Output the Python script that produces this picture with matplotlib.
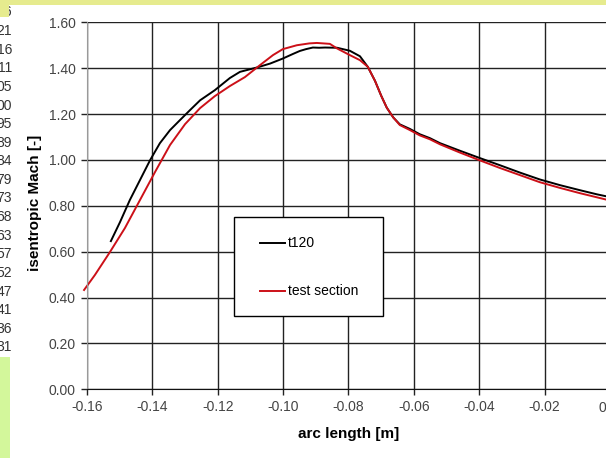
import numpy as np
import matplotlib.pyplot as plt
from matplotlib.patches import Rectangle
from matplotlib.lines import Line2D

plt.rcParams['font.family'] = ['Liberation Sans', 'DejaVu Sans']

# t120 curve (arc length [m], isentropic Mach [-])
t120_x = [-0.1527, -0.1499, -0.1469, -0.1438, -0.1407, -0.1377, -0.1346, -0.1316,
          -0.1285, -0.1254, -0.1209, -0.1163, -0.1132, -0.1102, -0.1080, -0.1040,
          -0.1001, -0.0970, -0.0949, -0.0930, -0.0909, -0.0890, -0.0872, -0.0835,
          -0.0796, -0.0765, -0.0741, -0.0719, -0.0700, -0.0683, -0.0663, -0.0643,
          -0.0612, -0.0582, -0.0551, -0.0520, -0.0459, -0.0398, -0.0337, -0.0276,
          -0.0215, -0.0153, -0.0092, -0.0040, 0.0]
t120_y = [0.646, 0.729, 0.825, 0.912, 0.999, 1.073, 1.130, 1.173,
          1.217, 1.260, 1.304, 1.357, 1.384, 1.395, 1.403, 1.420,
          1.442, 1.462, 1.475, 1.483, 1.490, 1.489, 1.490, 1.489,
          1.476, 1.452, 1.406, 1.345, 1.280, 1.228, 1.185, 1.155,
          1.135, 1.112, 1.095, 1.073, 1.040, 1.008, 0.977, 0.945,
          0.915, 0.890, 0.868, 0.850, 0.838]

# test section curve
test_x = [-0.1609, -0.1576, -0.1530, -0.1484, -0.1438, -0.1392, -0.1346, -0.1300,
          -0.1254, -0.1209, -0.1163, -0.1117, -0.1071, -0.1031, -0.1001, -0.0958,
          -0.0920, -0.0897, -0.0857, -0.0835, -0.0796, -0.0765, -0.0741, -0.0719,
          -0.0700, -0.0683, -0.0663, -0.0643, -0.0612, -0.0582, -0.0551, -0.0520,
          -0.0459, -0.0398, -0.0337, -0.0276, -0.0215, -0.0153, -0.0092, -0.0040, 0.0]
test_y = [0.433, 0.498, 0.598, 0.703, 0.825, 0.947, 1.065, 1.156,
          1.226, 1.278, 1.322, 1.361, 1.413, 1.457, 1.483, 1.500,
          1.508, 1.510, 1.506, 1.486, 1.457, 1.435, 1.406, 1.345,
          1.280, 1.228, 1.185, 1.152, 1.130, 1.107, 1.090, 1.068,
          1.032, 0.998, 0.965, 0.934, 0.903, 0.878, 0.855, 0.837, 0.823]

series_names = ['t120', 'test section']
series_colors = ['black', '#cc1018']

xticks = [-0.16, -0.14, -0.12, -0.10, -0.08, -0.06, -0.04, -0.02, 0.0]
xtick_labels = ['-0.16', '-0.14', '-0.12', '-0.10', '-0.08', '-0.06', '-0.04', '-0.02', '']
yticks = [0.0, 0.2, 0.4, 0.6, 0.8, 1.0, 1.2, 1.4, 1.6]
ytick_labels = ['0.00', '0.20', '0.40', '0.60', '0.80', '1.00', '1.20', '1.40', '1.60']

# spreadsheet column cut off at the left edge
side_numbers = ['26', '21', '16', '11', '05', '00', '95', '89', '84', '79',
                '73', '68', '63', '57', '52', '47', '41', '36', '31']

W, H = 606, 458
fig = plt.figure(figsize=(W / 100, H / 100), dpi=100)
fig.patch.set_facecolor('white')

ax = fig.add_axes([87 / W, 1 - 389.3 / H, 523 / W, 367 / H])
ax.plot(t120_x, t120_y, color=series_colors[0], lw=1.4, clip_on=False)
ax.plot(test_x, test_y, color=series_colors[1], lw=1.4, clip_on=False)

ax.set_xlim(-0.16, 0.0)
ax.set_ylim(0.0, 1.6)
ax.set_xticks(xticks)
ax.set_xticklabels(xtick_labels)
ax.set_yticks(yticks)
ax.set_yticklabels(ytick_labels)
ax.tick_params(axis='both', direction='out', length=4, width=1, color='#222222',
               labelsize=10, labelcolor='#444444', pad=4)
ax.grid(True, color='#222222', lw=1.0)
ax.set_axisbelow(True)
for s in ['top', 'right']:
    ax.spines[s].set_visible(False)
ax.spines['left'].set_color('#999999')
ax.spines['bottom'].set_color('#111111')

# last x tick label sits shifted inside the picture
fig.text(602 / W, 1 - 408 / H, '0', ha='center', va='center', fontsize=10, color='#444444')

fig.text(349 / W, 1 - 434 / H, 'arc length [m]', ha='center', va='center',
         fontsize=11, fontweight='bold')
fig.text(35 / W, 1 - 203 / H, 'isentropic Mach [-]', ha='center', va='center',
         fontsize=11, fontweight='bold', rotation=90)

# legend box, Excel style
fig.add_artist(Rectangle((234 / W, 1 - 316 / H), 149 / W, 99 / H, transform=fig.transFigure,
                         facecolor='white', edgecolor='black', lw=1.0, zorder=5))
for i, (name, col) in enumerate(zip(series_names, series_colors)):
    yy = 1 - (243 + i * 48) / H
    fig.add_artist(Line2D([260 / W, 285 / W], [yy, yy], transform=fig.transFigure,
                          color=col, lw=1.4, zorder=6))
    fig.text(288 / W, yy, name, ha='left', va='center', fontsize=10, zorder=6)

# side text and coloured bands of the screenshot
for i, s in enumerate(side_numbers):
    fig.text(12 / W, 1 - (12.5 + i * 18.6) / H, s, ha='right', va='center',
             fontsize=10, color='#333333')
fig.add_artist(Rectangle((0, 1 - 5 / H), 1, 5 / H, transform=fig.transFigure,
                         facecolor='#e6eb8e', edgecolor='none', zorder=10))
fig.add_artist(Rectangle((0, 1 - 17 / H), 9 / W, 17 / H, transform=fig.transFigure,
                         facecolor='#e6eb8e', edgecolor='none', zorder=10))
fig.add_artist(Rectangle((0, 0), 10 / W, (H - 357) / H, transform=fig.transFigure,
                         facecolor='#d3f79b', edgecolor='none', zorder=10))

fig.savefig('out.png', dpi=100)
